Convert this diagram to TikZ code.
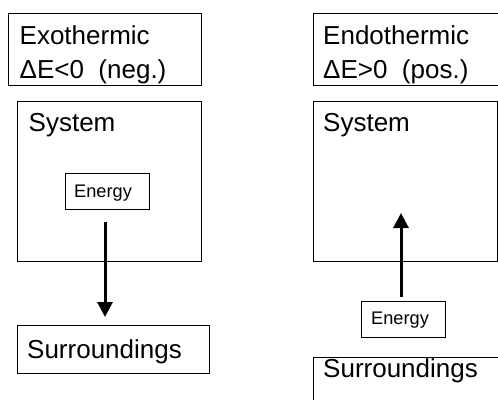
\documentclass[tikz,border=0pt]{standalone}
\usepackage{fontspec}
\setmainfont{Liberation Sans}
\usetikzlibrary{arrows.meta}
\begin{document}
\begin{tikzpicture}[x=1pt,y=-1pt,
  box/.style={draw=black, line width=0.9pt, inner sep=0pt, anchor=north west},
  big/.style={font=\fontsize{26}{32}\selectfont, inner sep=0pt, anchor=base west},
  small/.style={font=\fontsize{18.2}{22}\selectfont, inner sep=0pt, anchor=base west},
  arr/.style={line width=3pt, -{Triangle[width=15pt,length=15pt]}}]
\useasboundingbox (0,0) rectangle (498,399);
\clip (0,0) rectangle (498,399);
% ---------- left: exothermic ----------
\node[box, minimum width=193pt, minimum height=72pt] (hL) at (8,13) {};
\node[big] (t1L) at (19.5,44) {Exothermic};
\node[big] (t2L) at (19.5,78) {ΔE<0~~(neg.)};
\node[box, minimum width=184pt, minimum height=160pt] (sysL) at (17,101) {};
\node[big] (sysLt) at (28.5,131) {System};
\node[box, minimum width=84pt, minimum height=36pt] (eL) at (65,173) {};
\node[small] (eLt) at (74,197) {Energy};
\node[box, minimum width=192pt, minimum height=48pt] (surL) at (17,325) {};
\node[big] (surLt) at (27,358) {Surroundings};
\coordinate (aL1) at (105,222);
\coordinate (aL2) at (105,317);
\draw[arr] (aL1) -- (aL2);
% ---------- right: endothermic ----------
\node[box, minimum width=220pt, minimum height=72pt] (hR) at (313,13) {};
\node[big] (t1R) at (323,44) {Endothermic};
\node[big] (t2R) at (323,78) {ΔE>0~~(pos.)};
\node[box, minimum width=184pt, minimum height=160pt] (sysR) at (313,101) {};
\node[big] (sysRt) at (323,131) {System};
\node[box, minimum width=84pt, minimum height=36pt] (eR) at (361,301) {};
\node[small] (eRt) at (371,324) {Energy};
\node[box, minimum width=220pt, minimum height=70pt] (surR) at (313,357) {};
\node[big] (surRt) at (323,377) {Surroundings};
\coordinate (aR1) at (401,297);
\coordinate (aR2) at (401,213);
\draw[arr] (aR1) -- (aR2);
\end{tikzpicture}
\end{document}
